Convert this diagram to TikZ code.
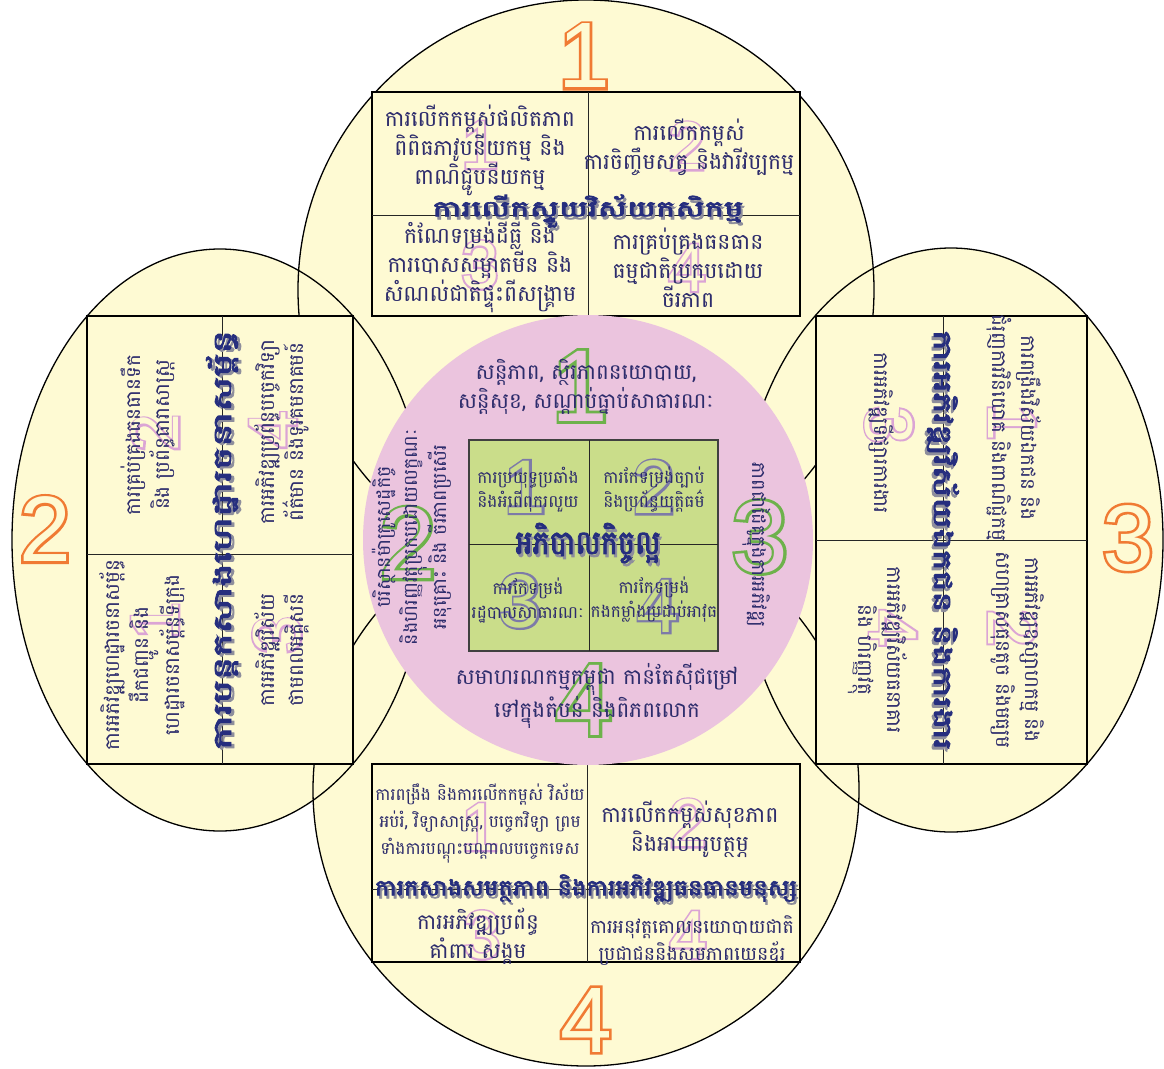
\documentclass[tikz,border=0pt]{standalone}
\usepackage{fontspec}
\newfontfamily\kh[Script=Khmer]{Battambang}
\newfontfamily\khb[Script=Khmer,FakeBold=3]{Battambang}
\newfontfamily\numf{Liberation Sans}
\newfontfamily\numfb[FakeBold=5.5]{Liberation Sans}
\definecolor{lobe}{HTML}{FEFAD3}
\definecolor{pinkc}{HTML}{EBC4DE}
\definecolor{greensq}{HTML}{CADD8A}
\definecolor{ink}{HTML}{2D2C6C}
\definecolor{ttl}{HTML}{262E7E}
\definecolor{shd}{HTML}{8E8E9C}
\definecolor{numor}{HTML}{F07A33}
\definecolor{numpk}{HTML}{DBA4D5}
\definecolor{numgr}{HTML}{6DB24B}
\definecolor{numpu}{HTML}{7D7AA8}
\begin{document}
\begin{tikzpicture}[x=1pt,y=-1pt,
  lobefill/.style={fill=lobe},
  lobeline/.style={draw=black,line width=1.3pt},
  box/.style={fill=lobe,draw=black,line width=1.4pt},
  divline/.style={draw=black!85,line width=0.9pt},
  txt/.style={text=ink,align=center,inner sep=0pt,font=\kh\fontsize{22}{29}\selectfont},
  txtc/.style={text=ink,align=center,inner sep=0pt,font=\kh\fontsize{21.5}{29}\selectfont},
  txtr/.style={text=ink,align=center,inner sep=0pt,font=\kh\fontsize{20}{29}\selectfont},
  txts/.style={text=ink,align=center,inner sep=0pt,font=\kh\fontsize{17}{27}\selectfont},
  txtm/.style={text=ink,align=center,inner sep=0pt,font=\kh\fontsize{19}{27}\selectfont},
  txtg/.style={text=ink,align=center,inner sep=0pt,font=\kh\fontsize{17}{24}\selectfont},
  ttlfg/.style={text=ttl,inner sep=0pt,font=\khb\fontsize{30}{30}\selectfont},
  ttlbg/.style={text=shd,inner sep=0pt,font=\khb\fontsize{30}{30}\selectfont},
  numO/.style={inner sep=0pt,text=lobe,font=\numf\fontsize{93}{93}\selectfont},
  numOb/.style={inner sep=0pt,text=numor,font=\numfb\fontsize{93}{93}\selectfont},
  numP/.style={inner sep=0pt,text=lobe,font=\numf\fontsize{68}{68}\selectfont},
  numPb/.style={inner sep=0pt,text=numpk,font=\numfb\fontsize{68}{68}\selectfont},
  numG/.style={inner sep=0pt,text=pinkc,font=\numf\fontsize{102}{102}\selectfont},
  numGb/.style={inner sep=0pt,text=numgr,font=\numfb\fontsize{102}{102}\selectfont},
  numU/.style={inner sep=0pt,text=greensq,font=\numf\fontsize{76}{76}\selectfont},
  numUb/.style={inner sep=0pt,text=numpu,font=\numfb\fontsize{76}{76}\selectfont}]
\useasboundingbox (0,0) rectangle (1164,1068);
% lobes
\path[lobefill] (586,290) ellipse [x radius=288pt,y radius=290pt];
\path[lobefill] (586,790) ellipse [x radius=273pt,y radius=276pt];
\path[lobefill] (220,540) ellipse [x radius=208pt,y radius=291pt];
\path[lobefill] (951,540) ellipse [x radius=212pt,y radius=292pt];
\path[lobeline] (586,290) ellipse [x radius=288pt,y radius=290pt];
\path[lobeline] (586,790) ellipse [x radius=273pt,y radius=276pt];
\path[lobeline] (220,540) ellipse [x radius=208pt,y radius=291pt];
\path[lobeline] (951,540) ellipse [x radius=212pt,y radius=292pt];
% rectangles
\path[box] (372,92) rectangle (800,316);
\path[divline] (588,92) -- (588,316) (372,215) -- (800,215);
\path[box] (87,316) rectangle (353,764);
\path[divline] (222,316) -- (222,764) (87,554) -- (353,554);
\path[box] (816,316) rectangle (1087,764);
\path[divline] (943,316) -- (943,764) (816,540) -- (1087,540);
\path[box] (372,764) rectangle (800,962);
\path[divline] (587,764) -- (587,962) (372,889) -- (800,889);
% pink circle and green square
\path[fill=pinkc] (588,540) circle [radius=225pt];
\path[fill=greensq,draw=black!75,line width=1.3pt] (469,440) rectangle (718,651);
\path[divline] (589,440) -- (589,651) (469,544) -- (718,544);
% orange numbers
\node[numOb] (o1b) at (584,56) {1};   \node[numO] (o1) at (584,56) {1};
\node[numOb] (o2b) at (45,529) {2};   \node[numO] (o2) at (45,529) {2};
\node[numOb] (o3b) at (1128,538) {3}; \node[numO] (o3) at (1128,538) {3};
\node[numOb] (o4b) at (586,1020) {4}; \node[numO] (o4) at (586,1020) {4};
% pink numbers
\node[numPb] (pt1b) at (480,145) {1}; \node[numP] (pt1) at (480,145) {1};
\node[numPb] (pt2b) at (687,146) {2}; \node[numP] (pt2) at (687,146) {2};
\node[numPb] (pt3b) at (480,265) {3}; \node[numP] (pt3) at (480,265) {3};
\node[numPb] (pt4b) at (687,268) {4}; \node[numP] (pt4) at (687,268) {4};
\node[numPb] (pb1b) at (480,827) {1}; \node[numP] (pb1) at (480,827) {1};
\node[numPb] (pb2b) at (688,823) {2}; \node[numP] (pb2) at (688,823) {2};
\node[numPb] (pb3b) at (482,935) {3}; \node[numP] (pb3) at (482,935) {3};
\node[numPb] (pb4b) at (688,935) {4}; \node[numP] (pb4) at (688,935) {4};
\node[numPb,rotate=90] (pl1b) at (155,621) {1}; \node[numP,rotate=90] (pl1) at (155,621) {1};
\node[numPb,rotate=90] (pl2b) at (155,433) {2}; \node[numP,rotate=90] (pl2) at (155,433) {2};
\node[numPb,rotate=90] (pl3b) at (277,635) {3}; \node[numP,rotate=90] (pl3) at (277,635) {3};
\node[numPb,rotate=90] (pl4b) at (273,430) {4}; \node[numP,rotate=90] (pl4) at (273,430) {4};
\node[numPb,rotate=-90] (pr1b) at (1012,422) {1}; \node[numP,rotate=-90] (pr1) at (1012,422) {1};
\node[numPb,rotate=-90] (pr2b) at (1012,628) {2}; \node[numP,rotate=-90] (pr2) at (1012,628) {2};
\node[numPb,rotate=-90] (pr3b) at (889,425) {3}; \node[numP,rotate=-90] (pr3) at (889,425) {3};
\node[numPb,rotate=-90] (pr4b) at (893,628) {4}; \node[numP,rotate=-90] (pr4) at (893,628) {4};
% green numbers
\node[numGb] (g1b) at (580,386) {1}; \node[numG] (g1) at (580,386) {1};
\node[numGb] (g2b) at (408,543) {2}; \node[numG] (g2) at (408,543) {2};
\node[numGb] (g3b) at (760,537) {3}; \node[numG] (g3) at (760,537) {3};
\node[numGb] (g4b) at (584,700) {4}; \node[numG] (g4) at (584,700) {4};
% purple numbers
\node[numUb] (u1b) at (525,487) {1}; \node[numU] (u1) at (525,487) {1};
\node[numUb] (u2b) at (654,487) {2}; \node[numU] (u2) at (654,487) {2};
\node[numUb] (u3b) at (520,601) {3}; \node[numU] (u3) at (520,601) {3};
\node[numUb] (u4b) at (658,606) {4}; \node[numU] (u4) at (658,606) {4};
% top rectangle texts
\node[txt] (tTL) at (480,150) {ការលើកកម្ពស់ផលិតភាព\\ពិពិធភាវូបនីយកម្ម និង\\ពាណិជ្ជូបនីយកម្ម};
\node[txt] (tTR) at (689,147) {ការលើកកម្ពស់\\ការចិញ្ចឹមសត្វ និងវារីវប្បកម្ម};
\node[txt] (tBL) at (480,267) {កំណែទម្រង់ដីធ្លី និង\\ការបោសសម្អាតមីន និង\\សំណល់ជាតិផ្ទុះពីសង្គ្រាម};
\node[txt] (tBR) at (688,268) {ការគ្រប់គ្រងធនធាន\\ធម្មជាតិប្រកបដោយ\\ចីរភាព};
\node[ttlbg] (tTs) at (590,214) {\resizebox*{311pt}{33pt}{ការលើកស្ទួយវិស័យកសិកម្ម}};
\node[ttlfg] (tT) at (588,211) {\resizebox*{311pt}{33pt}{ការលើកស្ទួយវិស័យកសិកម្ម}};
% left rectangle texts
\node[txtr,rotate=90] (l1) at (142,655) {ការអភិវឌ្ឍហេដ្ឋារចនាសម្ព័ន្ធ\\ដឹកជញ្ជូន និង\\ហេដ្ឋារចនាសម្ព័ន្ធទីក្រុង};
\node[txtr,rotate=90] (l2) at (148,435) {ការគ្រប់គ្រងធនធានទឹក\\និង ប្រព័ន្ធធារាសាស្ត្រ};
\node[txtr,rotate=90] (l3) at (282,650) {ការអភិវឌ្ឍវិស័យ\\ថាមពលអគ្គិសនី};
\node[txtr,rotate=90] (l4) at (282,432) {ការអភិវឌ្ឍប្រព័ន្ធបច្ចេកវិទ្យា\\ព័ត៌មាន និងទូរគមនាគមន៍};
\node[ttlbg,rotate=90] (lTs) at (225,542) {\resizebox*{420pt}{32pt}{ការបន្តកសាងហេដ្ឋារចនាសម្ព័ន្ធ}};
\node[ttlfg,rotate=90] (lT) at (222,540) {\resizebox*{420pt}{32pt}{ការបន្តកសាងហេដ្ឋារចនាសម្ព័ន្ធ}};
% right rectangle texts
\node[txtr,rotate=-90] (r1) at (1014,428) {ការពង្រឹងវិស័យឯកជន និង\\ជំរុញការវិនិយោគ និងពាណិជ្ជកម្ម};
\node[txtr,rotate=-90] (r2) at (1018,650) {ការអភិវឌ្ឍឧស្សាហកម្ម និង\\សហគ្រាសធុនតូច និងមធ្យម};
\node[txtr,rotate=-90] (r3) at (882,433) {ការអភិវឌ្ឍទីផ្សារការងារ};
\node[txtr,rotate=-90] (r4) at (878,650) {ការអភិវឌ្ឍវិស័យធនាគារ\\និង ហិរញ្ញវត្ថុ};
\node[ttlbg,rotate=-90] (rTs) at (941,543) {\resizebox*{420pt}{32pt}{ការអភិវឌ្ឍវិស័យឯកជន និងការងារ}};
\node[ttlfg,rotate=-90] (rT) at (943,540) {\resizebox*{420pt}{32pt}{ការអភិវឌ្ឍវិស័យឯកជន និងការងារ}};
% bottom rectangle texts
\node[txts] (bTL) at (480,823) {ការពង្រឹង និងការលើកកម្ពស់ វិស័យ\\អប់រំ, វិទ្យាសាស្ត្រ, បច្ចេកវិទ្យា ព្រម\\ទាំងការបណ្តុះបណ្តាលបច្ចេកទេស};
\node[txt] (bTR) at (690,829) {ការលើកកម្ពស់សុខភាព\\និងអាហារូបត្ថម្ភ};
\node[txtc] (bBL) at (478,936) {ការអភិវឌ្ឍប្រព័ន្ធ\\គាំពារ សង្គម};
\node[txtm] (bBR) at (692,941) {ការអនុវត្តគោលនយោបាយជាតិ\\ប្រជាជននិងសមភាពយេនឌ័រ};
\node[ttlbg] (bTs) at (588,891) {\resizebox*{422pt}{27pt}{ការកសាងសមត្ថភាព និងការអភិវឌ្ឍធនធានមនុស្ស}};
\node[ttlfg] (bT) at (586,888) {\resizebox*{422pt}{27pt}{ការកសាងសមត្ថភាព និងការអភិវឌ្ឍធនធានមនុស្ស}};
% pink circle texts
\node[txtc] (cT) at (586,387) {សន្តិភាព, ស្ថិរភាពនយោបាយ,\\សន្តិសុខ, សណ្តាប់ធ្នាប់សាធារណៈ};
\node[txtc] (cB) at (597,696) {សមាហរណកម្មកម្ពុជា កាន់តែស៊ីជម្រៅ\\ទៅក្នុងតំបន់ និងពិភពលោក};
\node[txtm,rotate=90] (cL) at (412,537) {បរិស្ថានម៉ាក្រូសេដ្ឋកិច្ច\\និងហិរញ្ញវត្ថុប្រកបដោយលក្ខណៈ\\អនុគ្រោះ និង ចីរភាពប្រសើរ};
\node[txtm,rotate=-90] (cR) at (757,545) {ភាពជាដៃគូក្នុងការអភិវឌ្ឍ};
% green square texts
\node[txtg] (gTL) at (528,490) {ការប្រយុទ្ធប្រឆាំង\\និងអំពើពុករលួយ};
\node[txtg] (gTR) at (654,490) {ការកែទម្រង់ច្បាប់\\និងប្រព័ន្ធយុត្តិធម៌};
\node[txtg] (gBL) at (528,601) {ការកែទម្រង់\\រដ្ឋបាលសាធារណៈ};
\node[txtg] (gBR) at (654,600) {ការកែទម្រង់\\កងកម្លាំងប្រដាប់អាវុធ};
\node[ttlbg] (gTs) at (590,546) {\resizebox*{145pt}{40pt}{អភិបាលកិច្ចល្អ}};
\node[ttlfg] (gT) at (588,543) {\resizebox*{145pt}{40pt}{អភិបាលកិច្ចល្អ}};
\end{tikzpicture}
\end{document}
